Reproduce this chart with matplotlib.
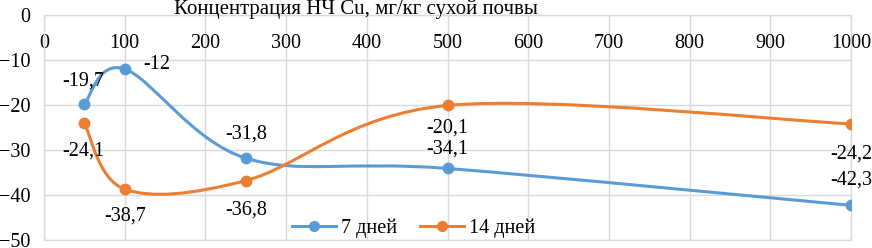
import numpy as np
import matplotlib
matplotlib.use("Agg")
import matplotlib.pyplot as plt
from matplotlib.path import Path
from matplotlib.patches import PathPatch
from matplotlib.lines import Line2D

conc = [50, 100, 250, 500, 1000]
days7 = [-19.7, -12.0, -31.8, -34.1, -42.3]
days14 = [-24.1, -38.7, -36.8, -20.1, -24.2]
labels7 = ["-19,7", "-12", "-31,8", "-34,1", "-42,3"]
labels14 = ["-24,1", "-38,7", "-36,8", "-20,1", "-24,2"]
series_names = ["7 дней", "14 дней"]
title = "Концентрация НЧ Cu, мг/кг сухой почвы"
xticks = list(range(0, 1001, 100))
yticks = list(range(-50, 1, 10))

plt.rcParams['font.family'] = ['Liberation Serif', 'DejaVu Serif']
FS = 14.5

fig = plt.figure(figsize=(8.72, 2.48), dpi=100)
ax = fig.add_axes([44/872, 1-240/248, 807/872, 225/248])
ax.set_xlim(0, 1000)
ax.set_ylim(-50, 0)

grid_c = "#d9d9d9"
ax.set_xticks(xticks)
ax.set_yticks(yticks)
ax.grid(True, color=grid_c, lw=1)
ax.set_axisbelow(True)
for s in ax.spines.values():
    s.set_color(grid_c)
    s.set_linewidth(1)
ax.tick_params(axis='x', which='both', length=0, labelbottom=False, labeltop=True,
               pad=-27, labelsize=FS, colors='black')
ax.tick_params(axis='y', length=0, pad=10, labelsize=FS, colors='black')


def smooth_path(xs, ys, sx=807/1000, sy=225/50):
    P = np.column_stack([np.array(xs) * sx, np.array(ys) * sy])
    n = len(P)
    verts = [P[0]]
    codes = [Path.MOVETO]
    for i in range(n - 1):
        p0 = P[i - 1] if i > 0 else P[i]
        p1 = P[i]
        p2 = P[i + 1]
        p3 = P[i + 2] if i + 2 < n else P[i + 1]
        c1 = p1 + (p2 - p0) / 6
        c2 = p2 - (p3 - p1) / 6
        verts += [c1, c2, p2]
        codes += [Path.CURVE4] * 3
    V = np.array(verts)
    V[:, 0] /= sx
    V[:, 1] /= sy
    return Path(V, codes)


colors = ["#5B9BD5", "#ED7D31"]
for ys, c in [(days7, colors[0]), (days14, colors[1])]:
    ax.add_patch(PathPatch(smooth_path(conc, ys), fill=False, edgecolor=c, lw=2.2,
                           capstyle='round', zorder=3))
    ax.plot(conc, ys, linestyle='None', color=c, marker='o', markersize=7.5, zorder=4)

handles = [Line2D([], [], color=c, lw=2.2, marker='o', markersize=7) for c in colors]
ax.legend(handles, series_names, loc='lower center', bbox_to_anchor=(0.458, -0.07),
          ncol=2, frameon=False, fontsize=FS, handlelength=2.2, columnspacing=1.1,
          handletextpad=0.25)

off7 = [(-1, 16), (23, 3), (0, 17), (0, 14), (0, 18)]
off14 = [(-1, -20), (0, -19.5), (0, -21.5), (0, -16), (0, -21.5)]
for x, y, t, o in zip(conc, days7, labels7, off7):
    ax.annotate(t, (x, y), xytext=o, textcoords='offset points', ha='center',
                va='center', fontsize=FS, zorder=5)
for x, y, t, o in zip(conc, days14, labels14, off14):
    ax.annotate(t, (x, y), xytext=o, textcoords='offset points', ha='center',
                va='center', fontsize=FS, zorder=5)

fig.text(356/872, 1-14/248, title, ha='center', va='baseline', fontsize=15)

fig.savefig("out.png", dpi=100)
